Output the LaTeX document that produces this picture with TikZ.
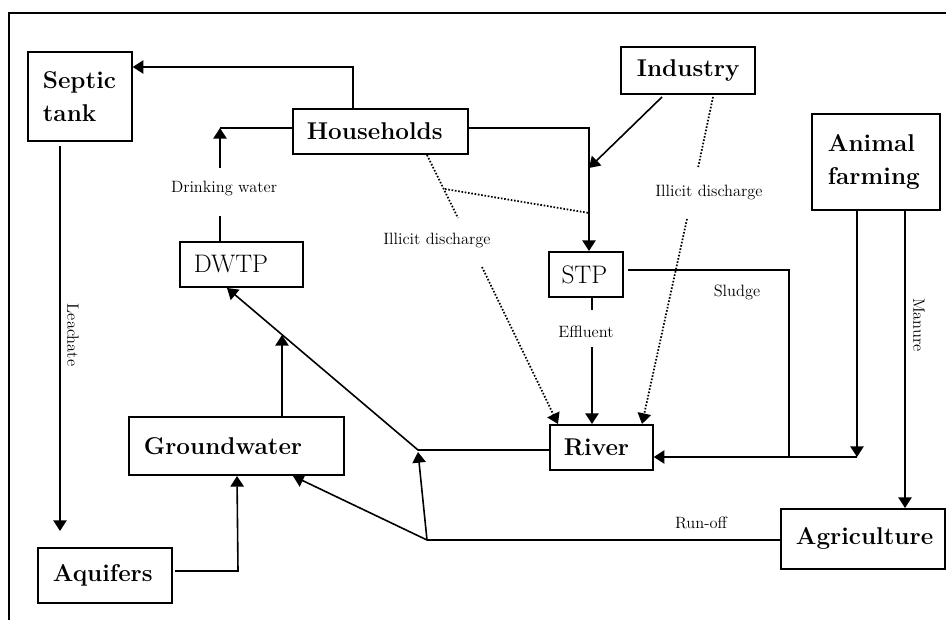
\documentclass[tikz,border=0pt]{standalone}
\usetikzlibrary{arrows.meta}
\begin{document}
\begin{tikzpicture}[x=0.75pt,y=-0.75pt,
 box/.style={draw,line width=1.3pt,anchor=north west,align=flush left,inner ysep=0pt},
 bf/.style={font=\fontsize{18.2}{25}\selectfont\bfseries},
 rm/.style={font=\fontsize{19}{22}\selectfont},
 lbl/.style={font=\fontsize{12.3}{14}\selectfont,inner sep=1pt},
 ln/.style={line width=1.2pt},
 arr/.style={ln,-{Triangle[width=10pt,length=8pt]}},
 dot/.style={line width=1.3pt,dash pattern=on 1.2pt off 1.3pt},
 dotarr/.style={dot,-{Triangle[width=10pt,length=8pt]}}]
\useasboundingbox (0,0) rectangle (946,620);
% frame
\draw[line width=1.3pt] (9,620) -- (9,13) -- (946,13);
% boxes
\node[box,bf,minimum height=66.75pt,text width=55.5pt,inner xsep=11.25pt] (sep) at (27,51) {Septic\\tank};
\node[box,bf,minimum height=33.75pt,text width=110.25pt,inner xsep=10.5pt] (hh) at (292,108) {Households};
\node[box,bf,minimum height=35.25pt,text width=76.5pt,inner xsep=12pt] (ind) at (620,46) {Industry};
\node[box,bf,minimum height=72pt,text width=72pt,inner xsep=12pt] (af) at (811,113) {Animal\\farming};
\node[box,rm,minimum height=33.75pt,text width=71.25pt,inner xsep=10.5pt] (dwtp) at (179,241) {DWTP};
\node[box,rm,minimum height=33.75pt,text width=36.5pt,inner xsep=9.5pt] (stp) at (548,251) {STP};
\node[box,bf,minimum height=43.5pt,text width=138.75pt,inner xsep=11.25pt] (gw) at (128,416) {Groundwater};
\node[box,bf,minimum height=41.25pt,text width=78pt,inner xsep=11.25pt] (aq) at (37,547) {Aquifers};
\node[box,bf,minimum height=33.75pt,text width=56.25pt,inner xsep=10.5pt] (riv) at (549,424) {River};
\node[box,bf,minimum height=45pt,text width=100.5pt,inner xsep=11.25pt] (agr) at (780,508) {Agriculture};
% labels
\node[lbl] (ldw) at (224,188) {Drinking water};
\node[lbl] (lil1) at (437,240) {Illicit discharge};
\node[lbl] (lil2) at (709,192) {Illicit discharge};
\node[lbl] (lsl) at (737,292) {Sludge};
\node[lbl] (lef) at (586,332) {Effluent};
\node[lbl] (lro) at (701,523) {Run-off};
\node[lbl,rotate=-90] (lma) at (919,325) {Manure};
\node[lbl,rotate=-90] (lle) at (73,335) {Leachate};
% coordinates
\coordinate (b1) at (353,67);
\coordinate (b2) at (220,128);
\coordinate (dwa) at (220,216);
\coordinate (dwb) at (220,168);
\coordinate (b3) at (589,128);
\coordinate (i1) at (662,97);
\coordinate (i2) at (589,168);
\coordinate (d1) at (427,155);
\coordinate (d2) at (458,218);
\coordinate (d3) at (482,267);
\coordinate (d4) at (558,424);
\coordinate (dx1) at (445,189);
\coordinate (dx2) at (589,213);
\coordinate (e1) at (713,97);
\coordinate (e2) at (698,168);
\coordinate (e3) at (687,219);
\coordinate (e4) at (642,424);
\coordinate (s1) at (628,270);
\coordinate (s2) at (789,270);
\coordinate (s3) at (789,457);
\coordinate (a1) at (857,209);
\coordinate (a2) at (857,457);
\coordinate (m1) at (905,209);
\coordinate (ef1) at (592,310);
\coordinate (ef2) at (592,347);
\coordinate (r1) at (427,540);
\coordinate (r2) at (418,452);
\coordinate (r3) at (293,476);
\coordinate (v1) at (418,450);
\coordinate (v2) at (227,288);
\coordinate (g1) at (282,335);
\coordinate (q1) at (175,571);
\coordinate (q2) at (238,571);
\coordinate (q3) at (237,476);
\coordinate (l1) at (60,146);
\coordinate (l2) at (60,531);
% connectors
\draw[arr] (hh.north -| b1) -- (b1) -- (b1 -| sep.east);
\draw[ln] (hh.west |- b2) -- (b2);
\draw[ln] (dwtp.north -| b2) -- (dwa);
\draw[arr] (dwb) -- (b2);
\draw[arr] (hh.east |- b3) -- (b3) -- (b3 |- stp.north);
\draw[arr] (i1) -- (i2);
\draw[dot] (d1) -- (d2);
\draw[dotarr] (d3) -- (d4);
\draw[dot] (dx1) -- (dx2);
\draw[dot] (e1) -- (e2);
\draw[dotarr] (e3) -- (e4);
\draw[ln] (s1) -- (s2) -- (s3);
\draw[arr] (a1) -- (a2);
\draw[arr] (a2) -- (a2 -| riv.east);
\draw[arr] (m1) -- (m1 |- agr.north);
\draw[ln] (ef1 |- stp.south) -- (ef1);
\draw[arr] (ef2) -- (ef2 |- riv.north);
\draw[ln] (agr.west |- r1) -- (r1);
\draw[arr] (r1) -- (r2);
\draw[arr] (r1) -- (r3);
\draw[arr] (riv.west |- v1) -- (v1) -- (v2);
\draw[arr] (gw.north -| g1) -- (g1);
\draw[arr] (q1) -- (q2) -- (q3);
\draw[arr] (l1) -- (l2);
\end{tikzpicture}
\end{document}
